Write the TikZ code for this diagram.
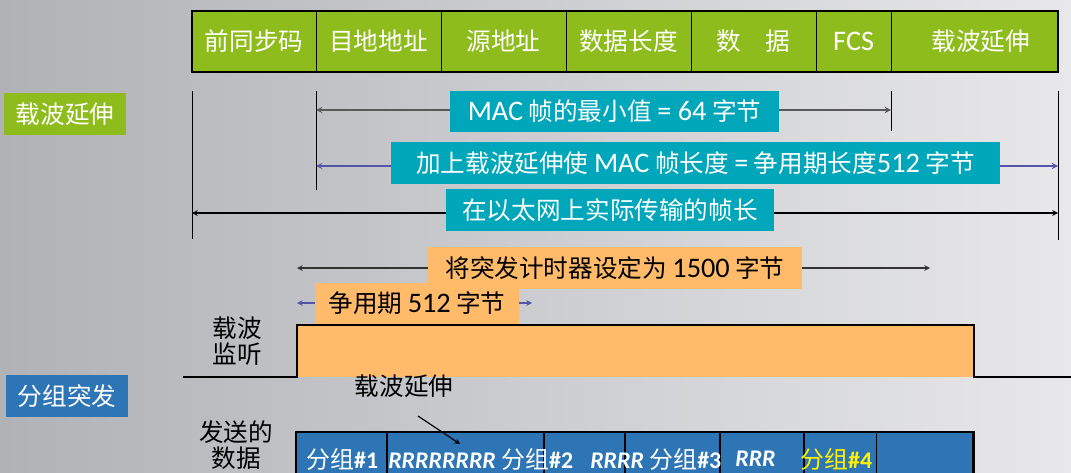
\documentclass[tikz,border=0pt]{standalone}
\usepackage{fontspec}
\setmainfont{Noto Sans CJK SC}
\newfontfamily\lat{Carlito}[Scale=1.15]
\newfontfamily\pkt{Carlito}
\usepackage{xcolor}
\usetikzlibrary{shapes.geometric, arrows, positioning}

\definecolor{framegreen}{RGB}{142,188,29}
\definecolor{labelteal}{RGB}{0,166,185}
\definecolor{burstorange}{RGB}{255,186,106}
\definecolor{burstblue}{RGB}{46,117,182}
\definecolor{arrowblue}{RGB}{84,84,168}
\definecolor{bgleft}{RGB}{176,178,182}
\definecolor{bgmid}{RGB}{218,219,222}
\definecolor{bgright}{RGB}{232,232,234}

\begin{document}
\begin{tikzpicture}[x=0.025cm, y=-0.025cm, >=stealth]
\tikzstyle{field} = [rectangle, minimum height=1.525cm, text centered, draw=black, fill=framegreen, text=white, inner sep=0pt, outer sep=0pt, font=\fontsize{17.5}{20}\selectfont]
\tikzstyle{tealbox} = [rectangle, minimum height=1.04cm, fill=labelteal, text=white, inner sep=0pt, font=\fontsize{17.5}{20}\selectfont]
\tikzstyle{orangebox} = [rectangle, minimum height=1.03cm, fill=burstorange, text=black, inner sep=0pt, font=\fontsize{17.5}{20}\selectfont]
\tikzstyle{tag} = [rectangle, minimum width=3.05cm, minimum height=1.05cm, text=white, inner sep=0pt, font=\fontsize{17.5}{20}\selectfont]
\tikzstyle{plain} = [align=center, inner sep=0pt, font=\fontsize{17.5}{18.5}\selectfont]
\tikzstyle{pktcell} = [rectangle, draw=black, fill=burstblue, minimum height=1.7cm, inner sep=0pt, outer sep=0pt, line width=0.9pt]
\tikzstyle{pkttext} = [anchor=west, inner sep=0pt, text=white, font=\fontsize{17}{20}\selectfont]

\useasboundingbox (0,0) rectangle (1071,473);
\clip (0,0) rectangle (1071,473);
\shade[left color=bgleft, middle color=bgmid, right color=bgright] (0,0) rectangle (1071,473);

% frame fields
\node (pre) [field, minimum width=3.1cm] at (254,41.5) {前同步码};
\node (dst) [field, minimum width=3.125cm, right=0pt of pre] {目地地址};
\node (src) [field, minimum width=3.125cm, right=0pt of dst] {源地址};
\node (len) [field, minimum width=3.125cm, right=0pt of src] {数据长度};
\node (dat) [field, minimum width=3.125cm, right=0pt of len] {数\quad 据};
\node (fcs) [field, minimum width=1.875cm, right=0pt of dat] {\lat FCS\hspace{0.35cm}};
\node (ext) [field, minimum width=4.175cm, right=0pt of fcs] {\hspace{0.3cm}载波延伸};
\draw[line width=1.6pt] (pre.north west) rectangle (ext.south east);

\node (exttag) [tag, fill=framegreen] at (65,114) {载波延伸};

% markers
\coordinate (v1t) at (192,91);
\coordinate (v1b) at (192,239);
\coordinate (v2t) at (316,91);
\coordinate (v2b) at (316,190);
\coordinate (v3t) at (891,91);
\coordinate (v3b) at (891,131);
\coordinate (v4t) at (1058,91);
\coordinate (v4b) at (1058,240);
\draw[line width=0.7pt] (v1t) -- (v1b);
\draw[line width=0.7pt] (v2t) -- (v2b);
\draw[line width=0.7pt] (v3t) -- (v3b);
\draw[line width=0.7pt] (v4t) -- (v4b);

\coordinate (m1l) at (316,110);
\coordinate (m1r) at (891,110);
\coordinate (m2l) at (316,166);
\coordinate (m2r) at (1058,166);
\coordinate (m3l) at (192,213);
\coordinate (m3r) at (1058,213);
\draw[<->, line width=1pt, black!65] (m1l) -- (m1r);
\draw[<->, line width=1pt, arrowblue] (m2l) -- (m2r);
\draw[<->, line width=0.8pt] (m3l) -- (m3r);

\node (minlen) [tealbox, minimum width=8.225cm] at (614.5,111.5) {{\lat MAC} 帧的最小值 {\lat = 64} 字节};
\node (padlen) [tealbox, minimum width=15.225cm] at (695.5,163) {加上载波延伸使 {\lat MAC} 帧长度 {\lat =} 争用期长度{\lat 512} 字节};
\node (txlen) [tealbox, minimum width=8.2cm] at (610,210) {在以太网上实际传输的帧长};

% burst timer
\coordinate (b1l) at (297,268);
\coordinate (b1r) at (930,268);
\coordinate (b2l) at (297,303);
\coordinate (b2r) at (532,303);
\draw[<->, line width=0.8pt, black!80] (b1l) -- (b1r);
\draw[<->, line width=0.8pt, arrowblue] (b2l) -- (b2r);
\node (timer) [orangebox, minimum width=9.35cm] at (615,268) {将突发计时器设定为 {\lat 1500} 字节};
\node (slot) [orangebox, minimum width=5.1cm] at (417,303.5) {争用期 {\lat 512} 字节};

% carrier sense
\coordinate (w0) at (183,377);
\coordinate (w1) at (297,377);
\coordinate (w2) at (297,325);
\coordinate (w3) at (974,325);
\coordinate (w4) at (974,377);
\coordinate (w5) at (1071,377);
\fill[burstorange] (w2) rectangle (w4);
\draw[line width=0.8pt] (w0) -- (w1) -- (w2) -- (w3) -- (w4) -- (w5);
\node (sense) [plain] at (237,341) {载波\\监听};

\node (bursttag) [tag, fill=burstblue] at (67,396) {分组突发};

% sent data
\node (sent) [plain] at (236,445) {发送的\\数据};
\node (p1) [pktcell, minimum width=2.275cm] at (341.5,466) {};
\node (p2) [pktcell, minimum width=3.925cm, right=0pt of p1] {};
\node (p3) [pktcell, minimum width=2.025cm, right=0pt of p2] {};
\node (p4) [pktcell, minimum width=2.375cm, right=0pt of p3] {};
\node (p5) [pktcell, minimum width=2.1cm, right=0pt of p4] {};
\node (p6) [pktcell, minimum width=1.8cm, right=0pt of p5] {};
\node (p7) [pktcell, minimum width=2.425cm, right=0pt of p6] {};
\draw[line width=2pt] (p1.north west) rectangle (p7.south east);

\node (g1) [pkttext] at (306,459) {分组{\pkt\bfseries\#1}};
\node (g2) [pkttext] at (388,459) {{\pkt\bfseries\itshape RRRRRRRR} 分组{\pkt\bfseries\#2}};
\node (g3) [pkttext] at (590,459) {{\pkt\bfseries\itshape RRRR} 分组{\pkt\bfseries\#3}};
\node (g4) [pkttext] at (735,459) {{\pkt\bfseries\itshape RRR}};
\node (g5) [pkttext, text=yellow] at (800,459) {分组{\pkt\bfseries\#4}};

\node (cext) [plain] at (404,386) {载波延伸};
\coordinate (cfrom) at (418,416);
\coordinate (ctip) at (460,444);
\draw[->, line width=0.8pt] (cfrom) -- (ctip);
\end{tikzpicture}
\end{document}
